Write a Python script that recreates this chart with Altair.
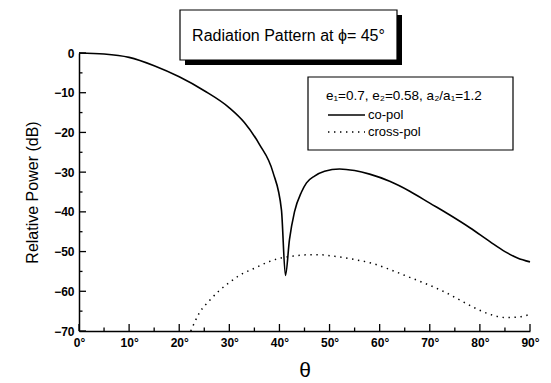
import altair as alt
import pandas as pd

# ---- data ----
theta_co = [0, 5, 10, 15, 20, 25, 30, 33, 36, 38.7, 40.4, 41.2, 42, 43, 44.4, 45.4,
            47, 49, 52, 55, 58, 62, 66, 70, 74, 78, 82, 85, 87.5, 90]
co_pol = [0, -0.25, -1.1, -3.2, -6.0, -9.5, -13.8, -17.5, -23.0, -30.0, -39.5, -56.0,
          -47.0, -40.0, -35.0, -32.7, -31.0, -29.8, -29.2, -29.6, -30.5, -32.3, -34.8, -37.8, -40.8,
          -44.0, -47.5, -50.0, -51.6, -52.6]

theta_x = [22.3, 24, 26.3, 28, 30, 32, 35, 38, 40, 43, 46, 48, 51, 55, 58.6, 62, 66, 70, 73, 76,
           79, 82, 85, 87.5, 90]
cross_pol = [-70, -65.5, -62, -59.8, -57.8, -56, -54.2, -52.5, -51.7, -51.1, -50.8, -50.8, -51.2, -52,
             -53, -54.5, -56.5, -58.5, -60.2, -62.2, -64.2, -65.8, -66.6, -66.5, -65.8]

x_major = list(range(0, 91, 10))
x_minor = list(range(5, 90, 10))
y_major = list(range(-70, 1, 10))
y_minor = list(range(-65, 0, 10))

title_text = "Radiation Pattern at ϕ= 45°"
legend_header = "e₁=0.7, e₂=0.58, a₂/a₁=1.2"
series_names = ["co-pol", "cross-pol"]

W, H = 451, 278
OX, OY = 79, 53
FONT = "Liberation Sans"

xs = alt.Scale(domain=[0, 90], nice=False, zero=False)
ys = alt.Scale(domain=[-70, 0], nice=False, zero=False)

co_df = pd.DataFrame({"theta": theta_co, "db": co_pol})
xp_df = pd.DataFrame({"theta": theta_x, "db": cross_pol})

x_axis = alt.Axis(values=x_major, labelExpr="datum.value + '°'", title="θ", grid=False,
                  ticks=False, domainColor="black", domainWidth=1.5, labelColor="black",
                  labelFont=FONT, labelFontSize=12, labelFontWeight="bold", labelPadding=6,
                  titleFont=FONT, titleFontSize=21, titleFontWeight="normal", titleColor="black",
                  titlePadding=11, labelFlush=False)
y_axis = alt.Axis(values=y_major, title="Relative Power (dB)", grid=False, ticks=False,
                  domainColor="black", domainWidth=1.5, labelColor="black",
                  labelFont=FONT, labelFontSize=12, labelFontWeight="bold", labelPadding=5,
                  titleFont=FONT, titleFontSize=16, titleFontWeight="normal", titleColor="black",
                  titlePadding=13, labelFlush=False)

X = alt.X("theta:Q", scale=xs, axis=x_axis)
Y = alt.Y("db:Q", scale=ys, axis=y_axis)

co_line = alt.Chart(co_df).mark_line(color="black", strokeWidth=1.6, interpolate="monotone").encode(
    x=X, y=Y)
xp_line = alt.Chart(xp_df).mark_line(color="black", strokeWidth=1.5, strokeDash=[1.4, 4.6],
                                     interpolate="monotone").encode(x=X, y=Y)


# inward ticks
def xticks(vals, length):
    return alt.Chart(pd.DataFrame({"theta": vals})).mark_rule(color="black", strokeWidth=1.3).encode(
        x=X, y=alt.value(H), y2=alt.value(H - length))


def yticks(vals, length):
    return alt.Chart(pd.DataFrame({"db": vals})).mark_rule(color="black", strokeWidth=1.3).encode(
        y=Y, x=alt.value(0), x2=alt.value(length))


one = pd.DataFrame({"a": [0]})

# title box
shadow = alt.Chart(one).mark_rect(color="black").encode(
    x=alt.value(180 - OX + 5), x2=alt.value(397 - OX + 5),
    y=alt.value(10 - OY + 5), y2=alt.value(60 - OY + 5))
tbox = alt.Chart(one).mark_rect(fill="white", stroke="black", strokeWidth=1.2).encode(
    x=alt.value(180 - OX), x2=alt.value(397 - OX),
    y=alt.value(10 - OY), y2=alt.value(60 - OY))
ttext = alt.Chart(one).mark_text(font=FONT, fontSize=16, color="black", align="center",
                                 baseline="middle").encode(
    x=alt.value((180 + 397) / 2 - OX), y=alt.value(36 - OY), text=alt.value(title_text))

# legend box
lbox = alt.Chart(one).mark_rect(fill="white", stroke="black", strokeWidth=1.2).encode(
    x=alt.value(308 - OX), x2=alt.value(513 - OX),
    y=alt.value(77 - OY), y2=alt.value(150 - OY))
lhead = alt.Chart(one).mark_text(font=FONT, fontSize=13.5, color="black", align="left",
                                 baseline="middle").encode(
    x=alt.value(326 - OX), y=alt.value(96 - OY), text=alt.value(legend_header))
lsolid = alt.Chart(one).mark_rule(color="black", strokeWidth=1.6).encode(
    x=alt.value(328 - OX), x2=alt.value(365 - OX), y=alt.value(115 - OY))
ldot = alt.Chart(one).mark_rule(color="black", strokeWidth=1.5, strokeDash=[1.4, 4.6]).encode(
    x=alt.value(328 - OX), x2=alt.value(365 - OX), y=alt.value(132 - OY))
lt1 = alt.Chart(one).mark_text(font=FONT, fontSize=13, color="black", align="left",
                               baseline="middle").encode(
    x=alt.value(368 - OX), y=alt.value(115 - OY), text=alt.value(series_names[0]))
lt2 = alt.Chart(one).mark_text(font=FONT, fontSize=13, color="black", align="left",
                               baseline="middle").encode(
    x=alt.value(368 - OX), y=alt.value(132 - OY), text=alt.value(series_names[1]))

chart = alt.layer(
    co_line, xp_line,
    xticks(x_major, 7), xticks(x_minor, 3.5), yticks(y_major, 7), yticks(y_minor, 3.5),
    shadow, tbox, ttext, lbox, lhead, lsolid, ldot, lt1, lt2,
).properties(
    width=W, height=H,
    autosize=alt.AutoSizeParams(type="none"),
    padding={"left": OX, "top": OY, "right": 551 - OX - W, "bottom": 383 - OY - H},
    background="white",
).configure_view(stroke=None)

chart.save("out.html", embed_options={"renderer": "svg", "actions": False})
